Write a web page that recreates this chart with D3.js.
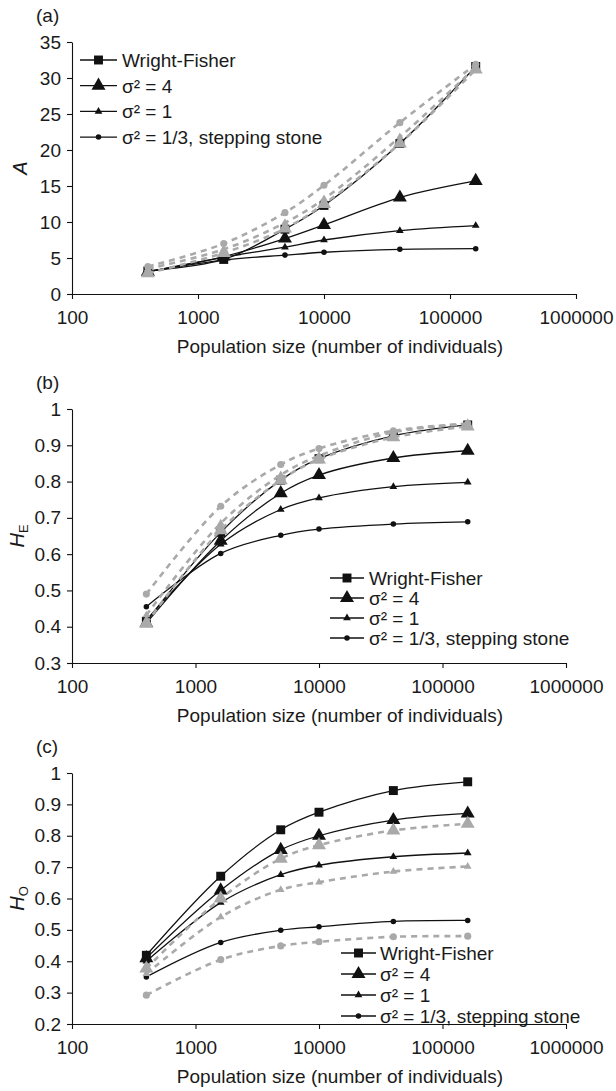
<!DOCTYPE html>
<html>
<head>
<meta charset="utf-8">
<script src="https://cdn.jsdelivr.net/npm/d3@7"></script>
<style>
  body { margin: 0; background: #fff; }
  svg text { font-family: "Liberation Sans", Arial, sans-serif; fill: #1a1a1a; }
</style>
</head>
<body>
<svg id="chart" width="616" height="1091"></svg>
<script>
// x values shared by all panels
var popSize = [400, 1600, 4900, 10000, 40000, 160000];
var xTicks  = [100, 1000, 10000, 100000, 1000000];
var legendNames = ["Wright-Fisher", "σ² = 4", "σ² = 1", "σ² = 1/3, stepping stone"];

// (a) A
var a_wf      = [3.2, 4.8, 9.0, 12.3, 20.9, 31.6];
var a_s4      = [3.1, 5.2, 7.7, 9.6, 13.4, 15.7];
var a_s1      = [3.1, 5.1, 6.5, 7.5, 8.8, 9.5];
var a_s13     = [3.1, 4.7, 5.4, 5.8, 6.2, 6.3];
var a_s4_g    = [2.9, 5.7, 9.1, 12.5, 20.9, 31.2];
var a_s1_g    = [3.5, 6.2, 9.9, 13.2, 21.8, 31.5];
var a_s13_g   = [3.8, 7.0, 11.3, 15.1, 23.8, 31.9];
var a_yTicks  = [0, 5, 10, 15, 20, 25, 30, 35];

// (b) H_E
var he_wf     = [0.415, 0.66, 0.804, 0.863, 0.926, 0.956];
var he_s4     = [0.41, 0.637, 0.768, 0.818, 0.865, 0.885];
var he_s1     = [0.418, 0.627, 0.723, 0.755, 0.786, 0.798];
var he_s13    = [0.455, 0.602, 0.652, 0.669, 0.683, 0.689];
var he_s4_g   = [0.41, 0.666, 0.804, 0.861, 0.922, 0.952];
var he_s1_g   = [0.432, 0.685, 0.818, 0.871, 0.936, 0.958];
var he_s13_g  = [0.49, 0.732, 0.847, 0.891, 0.94, 0.96];
var he_yTicks = [0.3, 0.4, 0.5, 0.6, 0.7, 0.8, 0.9, 1];

// (c) H_O
var ho_wf     = [0.419, 0.671, 0.819, 0.875, 0.944, 0.972];
var ho_s4     = [0.41, 0.626, 0.755, 0.80, 0.85, 0.871];
var ho_s1     = [0.40, 0.587, 0.676, 0.706, 0.733, 0.745];
var ho_s13    = [0.35, 0.46, 0.499, 0.51, 0.527, 0.53];
var ho_s4_g   = [0.377, 0.60, 0.727, 0.77, 0.817, 0.838];
var ho_s1_g   = [0.36, 0.541, 0.628, 0.652, 0.686, 0.702];
var ho_s13_g  = [0.292, 0.405, 0.449, 0.462, 0.478, 0.48];
var ho_yTicks = [0.2, 0.3, 0.4, 0.5, 0.6, 0.7, 0.8, 0.9, 1];

var svg = d3.select("#chart");
var black = "#111", grey = "#a9a9a9";

var markers = {
  square:   { type: d3.symbolSquare,   size: 80 },
  bigTri:   { type: d3.symbolTriangle, size: 85 },
  smallTri: { type: d3.symbolTriangle, size: 26 },
  dot:      { type: d3.symbolCircle,   size: 24 },
  greyDot:  { type: d3.symbolCircle,   size: 40 }
};

function makeSeries(wf, s4, s1, s13, s4g, s1g, s13g) {
  return [
    { values: wf,   marker: "square",   color: black, dashed: false },
    { values: s4,   marker: "bigTri",   color: black, dashed: false },
    { values: s1,   marker: "smallTri", color: black, dashed: false },
    { values: s13,  marker: "dot",      color: black, dashed: false },
    { values: s13g, marker: "greyDot",  color: grey,  dashed: true },
    { values: s1g,  marker: "smallTri", color: grey,  dashed: true },
    { values: s4g,  marker: "bigTri",   color: grey,  dashed: true }
  ];
}

var panels = [
  { tag: "(a)", label: "A", sub: null, domain: [0, 35], yTicks: a_yTicks,
    left: 72, right: 576, top: 42, bottom: 294, labelX: 27,
    legend: { x1: 80, x2: 117, tx: 122, y0: 60, dy: 25.7 },
    series: makeSeries(a_wf, a_s4, a_s1, a_s13, a_s4_g, a_s1_g, a_s13_g) },
  { tag: "(b)", label: "H", sub: "E", domain: [0.3, 1], yTicks: he_yTicks,
    left: 72, right: 566, top: 409, bottom: 663, labelX: 24,
    legend: { x1: 330, x2: 364, tx: 369, y0: 578, dy: 20 },
    series: makeSeries(he_wf, he_s4, he_s1, he_s13, he_s4_g, he_s1_g, he_s13_g) },
  { tag: "(c)", label: "H", sub: "O", domain: [0.2, 1], yTicks: ho_yTicks,
    left: 72, right: 566, top: 773, bottom: 1024, labelX: 24,
    legend: { x1: 341, x2: 376, tx: 380, y0: 953, dy: 21 },
    series: makeSeries(ho_wf, ho_s4, ho_s1, ho_s13, ho_s4_g, ho_s1_g, ho_s13_g) }
];

panels.forEach(drawPanel);

function drawPanel(p) {
  var x = d3.scaleLog().domain([100, 1000000]).range([p.left, p.right]);
  var y = d3.scaleLinear().domain(p.domain).range([p.bottom, p.top]);
  var g = svg.append("g");

  var xAxis = g.append("g")
    .attr("transform", "translate(0," + p.bottom + ")")
    .call(d3.axisBottom(x).tickValues(xTicks).tickFormat(d3.format("d"))
      .tickSize(5).tickSizeOuter(0).tickPadding(12));
  var yAxis = g.append("g")
    .attr("transform", "translate(" + p.left + ",0)")
    .call(d3.axisLeft(y).tickValues(p.yTicks).tickFormat(function(d) { return d3.format("~g")(d); })
      .tickSize(5).tickSizeOuter(0).tickPadding(6));

  [xAxis, yAxis].forEach(function(ax) {
    ax.selectAll("path, line").attr("stroke", black).attr("stroke-width", 1.1);
    ax.selectAll("text").attr("font-size", 19).attr("fill", "#1a1a1a")
      .style("font-family", "'Liberation Sans', Arial, sans-serif");
  });

  g.append("text")
    .attr("x", 340).attr("y", p.bottom + 59)
    .attr("text-anchor", "middle").attr("font-size", 19)
    .text("Population size (number of individuals)");

  g.append("text")
    .attr("x", 36).attr("y", p.top - 20)
    .attr("font-size", 19)
    .text(p.tag);

  var yl = g.append("text")
    .attr("transform", "translate(" + p.labelX + "," + (p.top + p.bottom) / 2 + ") rotate(-90)")
    .attr("text-anchor", "middle").attr("font-size", 20);
  yl.append("tspan").attr("font-style", "italic").text(p.label);
  if (p.sub) yl.append("tspan").attr("font-size", 13).attr("dy", 4).text(p.sub);

  var line = d3.line()
    .x(function(d, i) { return x(popSize[i]); })
    .y(function(d) { return y(d); })
    .curve(d3.curveCatmullRom.alpha(0.5));

  p.series.forEach(function(s) {
    g.append("path")
      .attr("d", line(s.values))
      .attr("fill", "none")
      .attr("stroke", s.color)
      .attr("stroke-width", s.dashed ? 2.6 : 1.3)
      .attr("stroke-dasharray", s.dashed ? "6,5" : null);

    var m = markers[s.marker];
    g.selectAll(null)
      .data(s.values)
      .enter().append("path")
        .attr("transform", function(d, i) { return "translate(" + x(popSize[i]) + "," + y(d) + ")"; })
        .attr("d", d3.symbol().type(m.type).size(m.size))
        .attr("fill", s.color);
  });

  // legend
  var lg = g.append("g");
  ["square", "bigTri", "smallTri", "dot"].forEach(function(mk, i) {
    var ly = p.legend.y0 + i * p.legend.dy;
    lg.append("line")
      .attr("x1", p.legend.x1).attr("x2", p.legend.x2)
      .attr("y1", ly).attr("y2", ly)
      .attr("stroke", black).attr("stroke-width", 1.3);
    lg.append("path")
      .attr("transform", "translate(" + (p.legend.x1 + p.legend.x2) / 2 + "," + ly + ")")
      .attr("d", d3.symbol().type(markers[mk].type).size(markers[mk].size))
      .attr("fill", black);
    lg.append("text")
      .attr("x", p.legend.tx).attr("y", ly).attr("dy", "0.36em")
      .attr("font-size", 19)
      .text(legendNames[i]);
  });
}
</script>
</body>
</html>
